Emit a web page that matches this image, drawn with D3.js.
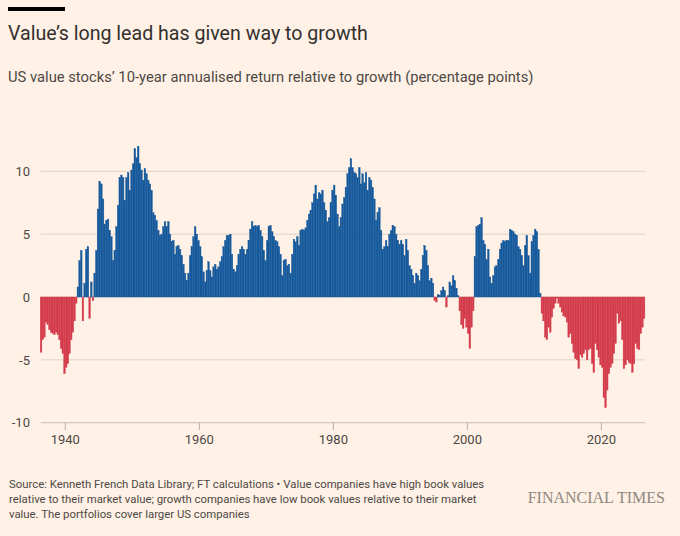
<!DOCTYPE html>
<html lang="en">
<head>
    <meta charset="utf-8">
    <title>Value vs growth</title>
    <script src="https://d3js.org/d3.v7.min.js"></script>
    <style>
        body { margin: 0; background: #fff1e5; }
        svg { display: block; font-family: Roboto, "Noto Sans", sans-serif; }
        .title { font-size: 19.6px; fill: #33302e; }
        .subtitle { font-size: 14.75px; fill: #4d4845; }
        .axis-label { font-size: 13px; fill: #4d4845; }
        .note { font-size: 11.35px; fill: #4d4845; }
        .brand { font-family: "Liberation Serif", "DejaVu Serif", serif; font-size: 16px; fill: #8f8882; }
    </style>
</head>
<body>
    <div id="chart"></div>
    <script>
        // Quarterly readings, percentage points, starting 1936 Q2 (one array per ten years)
        const r1936 = [-4.4,-3.4,-3.2,-2.0,-2.2,-2.6,-2.8,-2.9,-3.0,-2.8, -3.0,-3.4,-4.1,-4.5,-6.1,-5.6,-5.3,-4.5,-3.4,-2.8,
                       -1.9,-0.5,0.8,2.9,3.7,-1.9,1.1,3.8,4.0,-1.7, 1.2,-0.3,1.9,3.7,7.0,9.2,9.0,7.8,5.8,6.1];
        const r1946 = [6.2,5.3,4.8,2.9,3.7,5.6,7.3,9.5,9.7,9.5, 7.7,9.5,9.9,8.5,10.1,10.6,11.8,11.1,12.0,10.6,
                       10.1,9.3,10.2,9.8,9.3,9.0,8.5,6.7,6.5,6.1, 5.3,4.9,5.0,5.6,6.0,5.6,6.0,5.0,4.4,4.5];
        const r1956 = [3.4,4.0,4.1,3.8,3.3,2.6,1.9,1.3,1.9,3.3, 4.0,4.8,5.6,5.0,4.5,4.0,3.2,2.0,1.2,2.1,
                       2.8,2.1,1.6,2.4,2.6,2.2,2.4,2.8,3.2,4.0, 4.5,4.9,4.9,5.0,3.4,2.2,2.0,2.5,3.4,3.8];
        const r1966 = [4.0,3.8,3.4,3.8,4.5,5.4,6.0,5.6,5.7,5.6, 5.7,5.3,4.8,3.7,2.9,4.5,5.6,5.7,5.2,4.8,
                       4.5,4.4,4.0,3.4,1.7,2.9,3.0,2.5,2.6,1.9, 3.4,4.6,4.4,4.8,4.1,5.3,5.4,5.3,5.5,6.1];
        const r1976 = [6.6,6.9,7.5,8.2,8.9,7.8,8.3,8.2,8.5,7.5, 6.9,6.0,6.3,7.5,8.5,8.9,8.1,6.6,5.6,6.3,
                       7.4,7.9,8.7,9.8,10.3,11.0,10.3,9.9,9.8,9.5, 10.3,9.0,9.8,9.1,9.9,8.5,9.5,9.3,8.7,7.8];
        const r1986 = [6.1,6.7,7.1,5.3,3.8,4.0,4.5,4.0,5.0,5.3, 5.7,5.6,5.0,4.5,4.2,4.5,4.2,3.3,4.6,3.7,
                       2.5,2.2,1.7,1.1,1.9,1.7,1.3,2.2,3.3,4.1, 3.7,2.5,1.3,1.5,1.1,-0.3,-0.4,0.2,0.1,0.5];
        const r1996 = [0.8,0.5,-0.8,0.1,1.2,0.9,1.7,1.3,0.7,0.1, -1.1,-2.2,-2.5,-1.7,-2.4,-2.9,-4.1,-2.4,-1.1,3.2,
                       5.6,5.7,5.8,6.3,4.5,4.2,3.0,3.8,1.6,1.1, 1.7,2.4,2.5,3.0,3.8,4.3,4.5,4.4,4.5,4.5];
        const r2006 = [5.4,5.3,5.2,5.0,4.9,4.0,3.8,3.3,2.5,4.1, 4.9,3.3,1.9,4.4,4.9,5.4,5.2,3.8,0.3,-1.3,
                       -1.9,-3.2,-3.4,-2.4,-2.8,-1.6,-0.9,-0.5,-0.1,-0.5, -0.8,-1.2,-1.5,-1.6,-2.0,-3.2,-2.9,-3.7,-4.4,-4.9];
        const r2016 = [-5.0,-5.7,-4.6,-4.8,-4.5,-4.2,-5.0,-4.2,-4.1,-5.3, -6.0,-3.7,-4.2,-4.8,-5.4,-5.6,-8.0,-8.8,-7.4,-6.1,
                       -5.6,-5.3,-4.5,-3.7,-1.3,-2.1,-1.9,-3.4,-5.7,-5.4, -5.0,-5.2,-5.3,-6.0,-5.3,-3.7,-4.1,-4.2,-2.9,-2.4, -1.7];

        const startYear = 1936.25;
        const yTicks = [-10, -5, 0, 5, 10];
        const xTicks = [1940, 1960, 1980, 2000, 2020];

        const titleText = "Value\u2019s long lead has given way to growth";
        const subtitleText = "US value stocks\u2019 10-year annualised return relative to growth (percentage points)";
        const noteLines = [
            "Source: Kenneth French Data Library; FT calculations \u2022 Value companies have high book values",
            "relative to their market value; growth companies have low book values relative to their market",
            "value. The portfolios cover larger US companies"
        ];

        const values = [].concat(r1936, r1946, r1956, r1966, r1976, r1986, r1996, r2006, r2016);
        const data = values.map((v, i) => ({ t: startYear + i / 4, v: v }));

        const width = 680, height = 536;
        const svg = d3.select("#chart").append("svg")
            .attr("width", width)
            .attr("height", height);

        svg.append("rect").attr("width", width).attr("height", height).attr("fill", "#fff1e5");

        // FT top bar and headings
        svg.append("rect").attr("x", 8).attr("y", 7).attr("width", 57).attr("height", 4).attr("fill", "#000");
        svg.append("text").attr("class", "title").attr("x", 8).attr("y", 40).text(titleText);
        svg.append("text").attr("class", "subtitle").attr("x", 8).attr("y", 81.5).text(subtitleText);

        const x = d3.scaleLinear()
            .domain([startYear, startYear + values.length / 4])
            .range([40.2, 644.9]);

        const y = d3.scaleLinear()
            .domain([-10, 10])
            .range([422.7, 171.3]);

        // gridlines
        svg.append("g")
            .selectAll("line")
            .data(yTicks)
            .join("line")
            .attr("x1", 40.7)
            .attr("x2", 645)
            .attr("y1", d => y(d))
            .attr("y2", d => y(d))
            .attr("stroke", d => d === -10 ? "#c9bdb2" : "#ddd1c6")
            .attr("stroke-width", 1);

        // y labels
        svg.append("g")
            .selectAll("text")
            .data(yTicks)
            .join("text")
            .attr("class", "axis-label")
            .attr("x", 30)
            .attr("y", d => y(d))
            .attr("dy", "0.36em")
            .attr("text-anchor", "end")
            .text(d => d);

        // bars (thin same-colour stroke closes the hairline seams)
        const barW = x(startYear + 0.25) - x(startYear);
        svg.append("g")
            .selectAll("rect")
            .data(data)
            .join("rect")
            .attr("x", d => x(d.t))
            .attr("width", barW)
            .attr("y", d => y(Math.max(0, d.v)))
            .attr("height", d => Math.abs(y(d.v) - y(0)))
            .attr("fill", d => d.v >= 0 ? "#15599c" : "#d33b4b")
            .attr("stroke", d => d.v >= 0 ? "#15599c" : "#d33b4b")
            .attr("stroke-width", 0.35);

        // x axis ticks and labels
        const xg = svg.append("g");
        xg.selectAll("line")
            .data(xTicks)
            .join("line")
            .attr("x1", d => x(d))
            .attr("x2", d => x(d))
            .attr("y1", 422.7)
            .attr("y2", 430)
            .attr("stroke", "#b8ada3");
        xg.selectAll("text")
            .data(xTicks)
            .join("text")
            .attr("class", "axis-label")
            .attr("x", d => x(d))
            .attr("y", 444)
            .attr("text-anchor", "middle")
            .text(d => d);

        // footnote
        svg.append("g")
            .selectAll("text")
            .data(noteLines)
            .join("text")
            .attr("class", "note")
            .attr("x", 9)
            .attr("y", (d, i) => 487.5 + i * 15)
            .text(d => d);

        svg.append("text")
            .attr("class", "brand")
            .attr("x", 665)
            .attr("y", 503)
            .attr("text-anchor", "end")
            .text("FINANCIAL TIMES");
    </script>
</body>
</html>
